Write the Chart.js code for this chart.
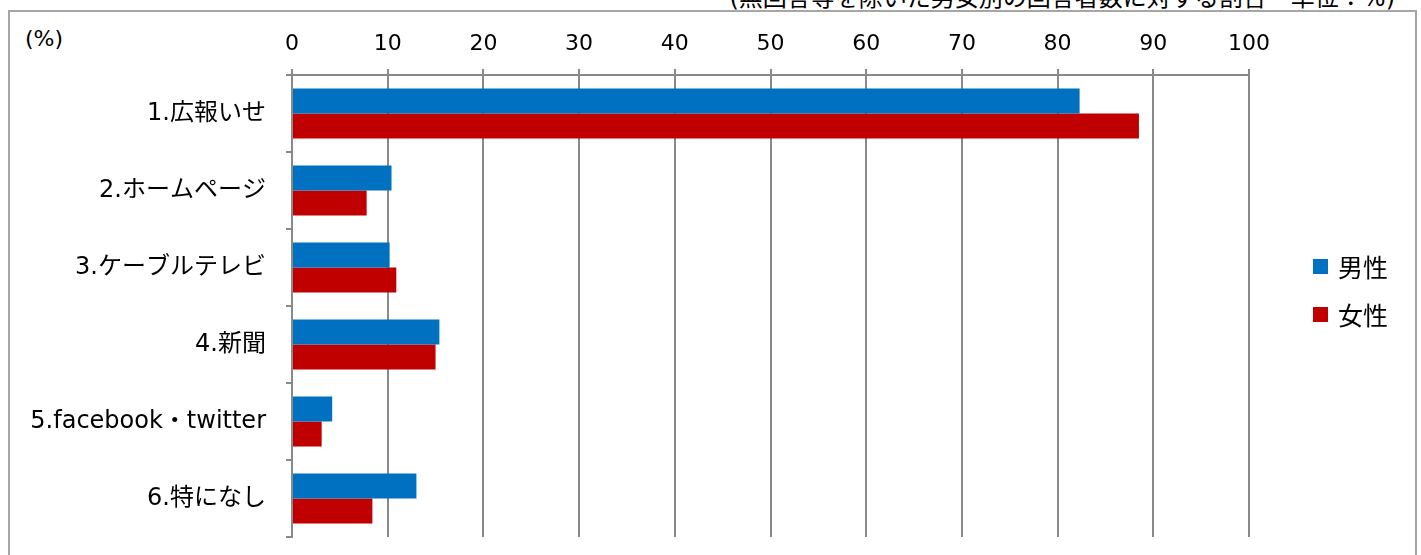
<!DOCTYPE html>
<html>
<head>
<meta charset="utf-8">
<script src="https://cdn.jsdelivr.net/npm/chart.js@4"></script>
<style>
  html, body { margin: 0; padding: 0; background: #fff; overflow: hidden; }
  body { width: 1421px; height: 555px; position: relative; font-family: "DejaVu Sans", "Noto Sans CJK JP", sans-serif; }
  #frame { position: absolute; left: 8px; top: 10px; width: 1409px; height: 600px; border: 2px solid #a6a6a6; box-sizing: border-box; }
  #note { position: absolute; right: 26px; top: -22px; font-size: 24px; color: #000; white-space: nowrap; }
  #unit { position: absolute; left: 25px; top: 26px; font-size: 22px; color: #000; }
  #wrap { position: absolute; left: 0; top: 0; width: 1421px; height: 555px; }
  .lg { position: absolute; left: 1313px; font-size: 25px; color: #000; display: flex; align-items: center; white-space: nowrap; }
  .lg span.box { display: inline-block; width: 15px; height: 15px; margin-right: 10px; }
</style>
</head>
<body>
<div id="frame"></div>
<div id="note">(無回答等を除いた男女別の回答者数に対する割合・単位：%)</div>
<div id="unit">(%)</div>
<div id="wrap"><canvas id="myChart"></canvas></div>
<div class="lg" style="top:248px"><span class="box" style="background:#0070C0"></span>男性</div>
<div class="lg" style="top:296px"><span class="box" style="background:#C00000"></span>女性</div>
<script>
const categories = [
    '1.広報いせ',
    '2.ホームページ',
    '3.ケーブルテレビ',
    '4.新聞',
    '5.facebook・twitter',
    '6.特になし'
];
const male = [82.3, 10.4, 10.2, 15.4, 4.2, 13.0];
const female = [88.5, 7.8, 10.9, 15.0, 3.1, 8.4];
const xTicks = [0, 10, 20, 30, 40, 50, 60, 70, 80, 90, 100];

const fontFamily = '"DejaVu Sans", "Noto Sans CJK JP", sans-serif';

const config = {
    type: 'bar',
    data: {
        labels: categories,
        datasets: [
            {
                label: '男性',
                data: male,
                backgroundColor: '#0070C0',
                borderColor: '#0070C0',
                borderWidth: 0,
            },
            {
                label: '女性',
                data: female,
                backgroundColor: '#C00000',
                borderColor: '#C00000',
                borderWidth: 0,
            },
        ]
    },
    options: {
        indexAxis: 'y',
        responsive: false,
        animation: false,
        datasets: {
            bar: {
                barPercentage: 1,
                categoryPercentage: 0.65,
            }
        },
        layout: {
            padding: { left: 0, top: 0, right: 172, bottom: 18 }
        },
        plugins: {
            legend: { display: false },
            tooltip: { enabled: false },
        },
        scales: {
            x: {
                position: 'top',
                min: 0,
                max: 100,
                afterBuildTicks: function (s) {
                    s.ticks = xTicks.map(v => ({ value: v }));
                },
                afterFit: function (s) {
                    s.height = 75;
                },
                ticks: {
                    color: '#000',
                    padding: 12,
                    font: { family: fontFamily, size: 22 },
                },
                grid: {
                    color: '#898989',
                    lineWidth: 2,
                    tickLength: 6,
                },
                border: { color: '#898989', width: 2 },
            },
            y: {
                afterFit: function (s) {
                    s.width = 292;
                    s.paddingTop = 0;
                    s.paddingBottom = 0;
                },
                ticks: {
                    color: '#000',
                    padding: 20,
                    font: { family: fontFamily, size: 24 },
                },
                grid: {
                    drawOnChartArea: false,
                    color: '#898989',
                    lineWidth: 2,
                    tickLength: 6,
                },
                border: { color: '#898989', width: 2 },
            }
        }
    }
};

const canvas = document.getElementById('myChart');
canvas.width = 1421;
canvas.height = 555;
canvas.style.width = '1421px';
canvas.style.height = '555px';
const myChart = new Chart(canvas, config);
</script>
</body>
</html>
